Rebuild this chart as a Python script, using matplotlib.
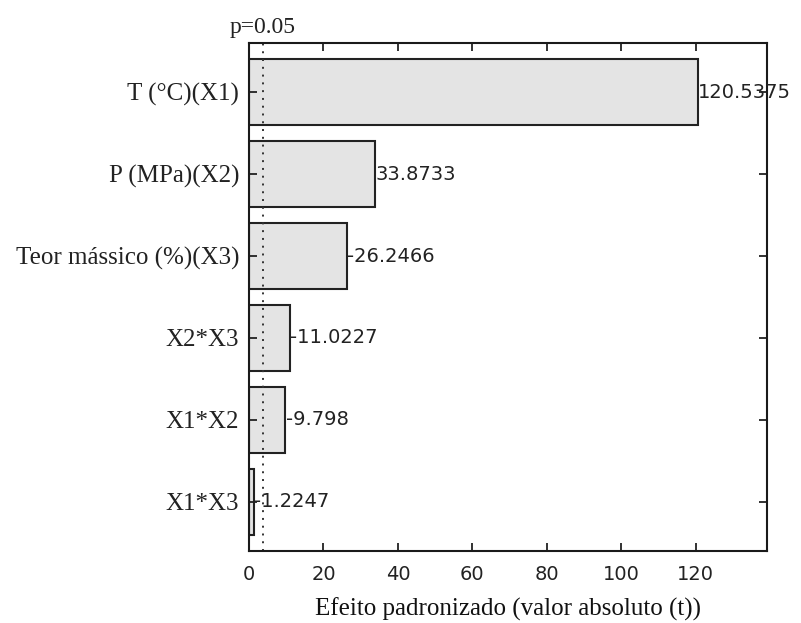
import matplotlib
matplotlib.use("Agg")
import matplotlib.pyplot as plt

# Pareto chart of standardized effects
terms = ["T (°C)(X1)", "P (MPa)(X2)", "Teor mássico (%)(X3)", "X2*X3", "X1*X2", "X1*X3"]
effects = [120.5375, 33.8733, -26.2466, -11.0227, -9.798, -1.2247]
effect_labels = ["120.5375", "33.8733", "-26.2466", "-11.0227", "-9.798", "-1.2247"]
p_limit = 3.76
x_ticks = [0, 20, 40, 60, 80, 100, 120]

fig = plt.figure(figsize=(8.01, 6.23), dpi=100)
ax = fig.add_axes([0.3109, 0.1156, 0.9576 - 0.3109, 0.931 - 0.1156])

positions = list(range(1, len(terms) + 1))
magnitudes = [abs(v) for v in effects]
ax.barh(positions, magnitudes, height=0.8, color="#e4e4e4",
        edgecolor="#222222", linewidth=1.5)

for pos, mag, lab in zip(positions, magnitudes, effect_labels):
    ax.annotate(lab, xy=(mag, pos), xytext=(0.3, 0), textcoords="offset points",
                ha="left", va="center", fontsize=14, family="DejaVu Sans",
                color="#222222")

ax.axvline(p_limit, color="#333333", linestyle=(0, (1, 3)), linewidth=1.4)
ax.text(p_limit, 1.01, "p=0.05", transform=ax.get_xaxis_transform(),
        ha="center", va="bottom", fontsize=17, family="Liberation Serif",
        color="#222222")

ax.set_xlim(0, 139.2)
ax.set_ylim(6.6, 0.4)
ax.set_xticks(x_ticks)
ax.set_xticklabels([str(t) for t in x_ticks], family="DejaVu Sans", fontsize=14,
                   color="#222222")
ax.set_yticks(positions)
ax.set_yticklabels(terms, family="Liberation Serif", fontsize=18, color="#222222")
ax.tick_params(direction="in", top=True, right=True, length=6, width=1.3,
               colors="#222222", pad=6)
ax.tick_params(axis="x", pad=10)
ax.tick_params(axis="y", pad=7)
for s in ax.spines.values():
    s.set_linewidth(1.5)
    s.set_color("#1a1a1a")

ax.set_xlabel("Efeito padronizado (valor absoluto (t))", family="Liberation Serif",
              fontsize=18, color="#111111", labelpad=10)

fig.savefig("out.png", dpi=100)
